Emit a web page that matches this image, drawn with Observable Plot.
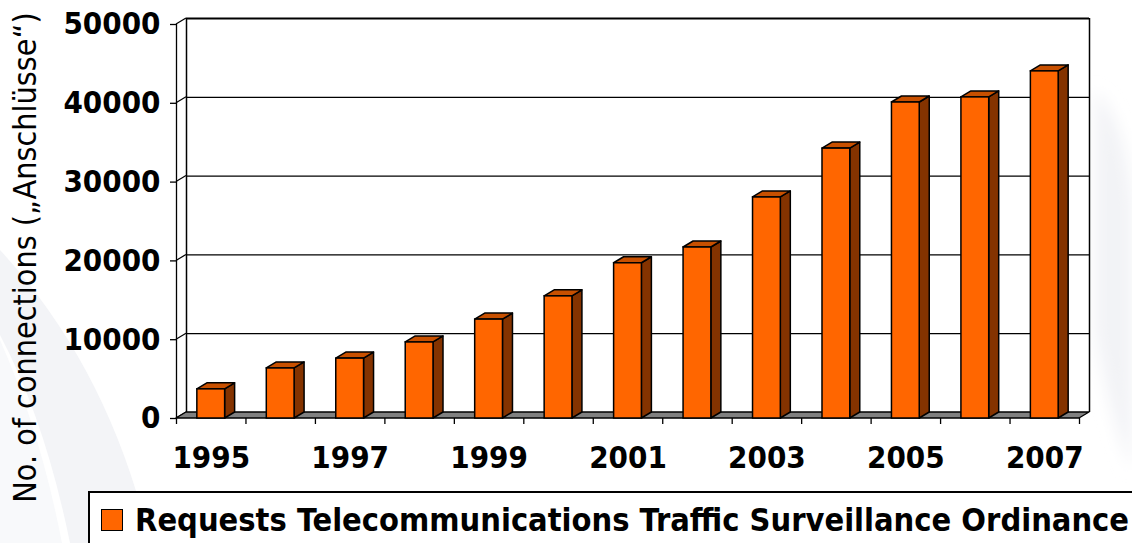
<!DOCTYPE html>
<html><head><meta charset="utf-8">
<script src="https://cdn.jsdelivr.net/npm/d3@7"></script>
<script src="https://cdn.jsdelivr.net/npm/@observablehq/plot@0.6"></script>
<style>
html,body{margin:0;padding:0;background:#fff;overflow:hidden;width:1132px;height:543px;}
#wrap{position:relative;width:1132px;height:543px;}
#deco{position:absolute;left:0;top:0;width:1132px;height:543px;z-index:0;}
#chart{position:absolute;left:0;top:0;z-index:1;}
#legend{position:absolute;z-index:2;left:88px;top:491px;width:1100px;height:80px;border:2px solid #000;background:#fff;box-sizing:border-box;
  font-family:'DejaVu Sans Condensed','DejaVu Sans',sans-serif;font-stretch:condensed;font-weight:bold;font-size:32.3px;color:#000;}
#legend .sw{position:absolute;left:11px;top:16px;width:22px;height:22px;box-sizing:border-box;border:1.5px solid #000;background:#FF6600;}
#legend .tx{position:absolute;left:45px;top:11px;line-height:32px;white-space:nowrap;}
</style></head>
<body><div id="wrap">
<svg id="deco" viewBox="0 0 1132 543" aria-hidden="true">
  <defs><filter id="bl" x="-50%" y="-50%" width="200%" height="200%"><feGaussianBlur stdDeviation="8"/></filter></defs>
  <path d="M0,250 Q110,370 150,543 L70,543 Q45,420 0,335 Z" fill="#f3f4f7"/>
  <path d="M0,340 Q40,430 62,543 L0,543 Z" fill="#f8f9fb"/>
  <path d="M1095,90 Q1125,120 1132,200 L1132,470 Q1110,420 1095,330 Z" fill="#f2f3f6" filter="url(#bl)"/>
</svg>
<div id="chart"></div>
</div>
<script>
// ---- data ----
const years = [1995, 1996, 1997, 1998, 1999, 2000, 2001, 2002, 2003, 2004, 2005, 2006, 2007];
const connections = [3700, 6350, 7600, 9650, 12550, 15500, 19700, 21700, 28050, 34250, 40100, 40750, 44050];
const yTicks = [0, 10000, 20000, 30000, 40000, 50000];
const xLabelYears = [1995, 1997, 1999, 2001, 2003, 2005, 2007];
const seriesName = "Requests Telecommunications Traffic Surveillance Ordinance";
const yTitle = "No. of connections („Anschlüsse“)";

const data = years.map((year, i) => ({year, value: connections[i]}));
const xLo = years[0] - 0.5, xHi = years[years.length - 1] + 0.5;
const boundaries = years.map(y => y - 0.5).concat([xHi]);
const HALF = 0.2;          // half bar width in year units
const DX = 10, DY = 6;     // depth offset of the 3-D look

const FRONT = "#FF6600", TOP = "#C85000", SIDE = "#843300", FLOOR = "#808080";

function backWall(index, {x, y}) {
  const x0 = x(xLo) + DX, x1 = x(xHi) + DX, yt = y(50000) - DY, yb = y(0) - DY;
  const g = d3.create("svg:g");
  g.append("rect").attr("x", x0).attr("y", yt).attr("width", x1 - x0).attr("height", yb - yt).attr("fill", "#fff");
  return g.node();
}
function leftWall(index, {x, y}) {
  const g = d3.create("svg:g").attr("stroke", "#000").attr("stroke-width", 1.2).attr("fill", "none");
  const x0 = x(xLo);
  for (const t of yTicks) {
    g.append("line").attr("x1", x0).attr("y1", y(t)).attr("x2", x0 + DX).attr("y2", y(t) - DY);
  }
  return g.node();
}
function floor(index, {x, y}) {
  const g = d3.create("svg:g");
  const x0 = x(xLo), x1 = x(xHi), y0 = y(0);
  g.append("path")
    .attr("d", `M${x0},${y0}L${x1},${y0}L${x1 + DX},${y0 - DY}L${x0 + DX},${y0 - DY}Z`)
    .attr("fill", FLOOR).attr("stroke", "#000").attr("stroke-width", 1.3).attr("stroke-linejoin", "round");
  return g.node();
}
function prisms(index, {x, y}) {
  const g = d3.create("svg:g").attr("stroke", "#000").attr("stroke-width", 1.5).attr("stroke-linejoin", "round");
  const y0 = y(0);
  for (const d of data) {
    const xl = x(d.year - HALF), xr = x(d.year + HALF), yv = y(d.value);
    g.append("path").attr("fill", SIDE)
      .attr("d", `M${xr},${yv}L${xr + DX},${yv - DY}L${xr + DX},${y0 - DY}L${xr},${y0}Z`);
    g.append("path").attr("fill", TOP)
      .attr("d", `M${xl},${yv}L${xl + DX},${yv - DY}L${xr + DX},${yv - DY}L${xr},${yv}Z`);
  }
  return g.node();
}

const chart = Plot.plot({
  width: 1132,
  height: 543,
  marginLeft: 176,
  marginRight: 53,
  marginTop: 24,
  marginBottom: 125,
  style: {fontFamily: "'DejaVu Sans Condensed','DejaVu Sans',sans-serif", fontStretch: "condensed", fontSize: "31px", fontWeight: "bold", color: "#000", background: "transparent", overflow: "visible"},
  x: {domain: [xLo, xHi], axis: null},
  y: {domain: [0, 50000], axis: null},
  marks: [
    backWall,
    // back wall grid lines
    Plot.ruleY(yTicks.filter(t => t > 0 && t < 50000), {x1: xLo, x2: xHi, dx: DX, dy: -DY, stroke: "#000", strokeWidth: 1.3}),
    Plot.ruleY([50000], {x1: xLo, x2: xHi, dx: DX, dy: -DY, stroke: "#000", strokeWidth: 1.8}),
    Plot.ruleX([xLo, xHi], {y1: 0, y2: 50000, dx: DX, dy: -DY, stroke: "#000", strokeWidth: 1.5}),
    leftWall,
    floor,
    prisms,
    Plot.rectY(data, {x1: d => d.year - HALF, x2: d => d.year + HALF, y: "value", fill: FRONT, stroke: "#000", strokeWidth: 1.5}),
    Plot.ruleX([xLo], {y1: 0, y2: 50000, stroke: "#000", strokeWidth: 1.3}),
    Plot.axisY({ticks: yTicks, tickSize: 6, tickPadding: 10, tickFormat: d => String(d), label: null, stroke: "#000", strokeWidth: 1.3}),
    Plot.axisX({ticks: boundaries, tickSize: 6, tickFormat: () => "", label: null, stroke: "#000", strokeWidth: 1.3}),
    Plot.axisX({ticks: xLabelYears, tickSize: 0, tickPadding: 27, tickFormat: d => String(d), label: null}),
    Plot.text([yTitle], {frameAnchor: "left", textAnchor: "middle", rotate: -90, dx: -151, dy: 36, fontSize: 32, fontWeight: "normal", fontFamily: "'DejaVu Sans', sans-serif", fill: "#000"})
  ]
});
document.getElementById("chart").appendChild(chart);
const lg = document.createElement("div");
lg.id = "legend";
lg.innerHTML = `<span class="sw"></span><span class="tx"></span>`;
lg.querySelector(".tx").textContent = seriesName;
document.getElementById("wrap").appendChild(lg);
</script>
</body></html>
